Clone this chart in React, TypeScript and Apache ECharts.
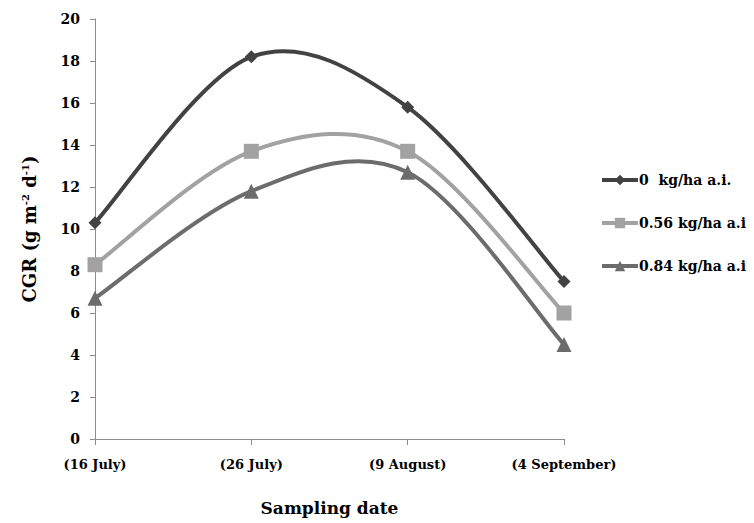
import React, { useEffect, useRef } from "react";
import * as echarts from "echarts";

const categories = ["(16 July)", "(26 July)", "(9 August)", "(4 September)"];
const seriesNames = ["0  kg/ha a.i.", "0.56 kg/ha a.i", "0.84 kg/ha a.i"];
const dose0 = [10.3, 18.2, 15.8, 7.5];
const dose056 = [8.3, 13.7, 13.7, 6.0];
const dose084 = [6.7, 11.8, 12.7, 4.5];
const yTicks = [0, 2, 4, 6, 8, 10, 12, 14, 16, 18, 20];

const FONT = "'DejaVu Serif', 'Liberation Serif', serif";
const colors = ["#424242", "#a2a2a2", "#6c6c6c"];
const symbols = ["diamond", "rect", "triangle"];
const sizes = [13, 15, 15];

export default function App() {
  const ref = useRef<HTMLDivElement>(null);
  useEffect(() => {
    if (!ref.current) return;
    const chart = echarts.init(ref.current, null, { renderer: "svg" });
    const all = [dose0, dose056, dose084];

    const curve = (values: number[], color: string, idx: number) => ({
      name: "curve" + idx,
      type: "custom",
      z: 2,
      data: values.map((v, i) => [i, v]),
      renderItem: (params: any, api: any) => {
        const i = params.dataIndex;
        if (i >= values.length - 1) return null;
        const pt = (k: number) => {
          const kk = Math.max(0, Math.min(values.length - 1, k));
          return api.coord([kk, values[kk]]);
        };
        const p0 = pt(i - 1);
        const p1 = pt(i);
        const p2 = pt(i + 1);
        const p3 = pt(i + 2);
        const t = 1 / 6;
        return {
          type: "bezierCurve",
          shape: {
            x1: p1[0],
            y1: p1[1],
            x2: p2[0],
            y2: p2[1],
            cpx1: p1[0] + (p2[0] - p0[0]) * t,
            cpy1: p1[1] + (p2[1] - p0[1]) * t,
            cpx2: p2[0] - (p3[0] - p1[0]) * t,
            cpy2: p2[1] - (p3[1] - p1[1]) * t,
          },
          style: { stroke: color, lineWidth: 4, fill: "none", lineCap: "round" },
          silent: true,
        };
      },
    });

    const marks = (values: number[], k: number) => ({
      name: seriesNames[k],
      type: "line",
      z: 3,
      data: values,
      symbol: symbols[k],
      symbolSize: sizes[k],
      lineStyle: { color: colors[k], width: 4, opacity: 0 },
      itemStyle: { color: colors[k] },
    });

    chart.setOption({
      animation: false,
      backgroundColor: "#ffffff",
      textStyle: { fontFamily: FONT },
      grid: { left: 95, right: 190, top: 19, bottom: 84, containLabel: false },
      legend: {
        orient: "vertical",
        left: 595,
        top: 168,
        itemGap: 29,
        itemWidth: 36,
        itemHeight: 13,
        textStyle: { fontFamily: FONT, fontWeight: "bold", fontSize: 14, color: "#000", padding: [0, 0, 0, -4] },
        data: seriesNames.map((n, k) => ({
          name: n,
          lineStyle: { color: colors[k], width: 4, opacity: 1 },
        })),
      },
      xAxis: {
        type: "category",
        data: categories,
        boundaryGap: false,
        axisLine: { lineStyle: { color: "#8c8c8c", width: 1 } },
        axisTick: { show: true, alignWithLabel: true, length: 6, inside: false, lineStyle: { color: "#8c8c8c" } },
        axisLabel: { fontFamily: FONT, fontWeight: "bold", fontSize: 13, color: "#000", margin: 19 },
        name: "Sampling date",
        nameLocation: "middle",
        nameGap: 60,
        nameTextStyle: { fontFamily: FONT, fontWeight: "bold", fontSize: 17, color: "#000" },
        splitLine: { show: false },
      },
      yAxis: {
        type: "value",
        min: yTicks[0],
        max: yTicks[yTicks.length - 1],
        interval: 2,
        axisLine: { show: true, lineStyle: { color: "#8c8c8c", width: 1 } },
        axisTick: { show: true, length: 5, lineStyle: { color: "#8c8c8c" } },
        axisLabel: { fontFamily: FONT, fontWeight: "bold", fontSize: 14, color: "#000", margin: 15 },
        splitLine: { show: false },
        name: "{a|CGR (g m}{s|-2}{a| d}{s|-1}{a|)}",
        nameLocation: "middle",
        nameRotate: 90,
        nameGap: 57,
        nameTextStyle: {
          rich: {
            a: { fontFamily: FONT, fontWeight: "bold", fontSize: 18, color: "#000" },
            s: { fontFamily: FONT, fontWeight: "bold", fontSize: 10, color: "#000", verticalAlign: "top", padding: [0, 0, 8, 0] },
          },
        },
      },
      series: [
        ...all.map((v, k) => curve(v, colors[k], k)),
        ...all.map((v, k) => marks(v, k)),
      ],
    });
    return () => chart.dispose();
  }, []);
  return <div ref={ref} style={{ width: 754, height: 523, position: "absolute", left: 0, top: 0 }} />;
}
